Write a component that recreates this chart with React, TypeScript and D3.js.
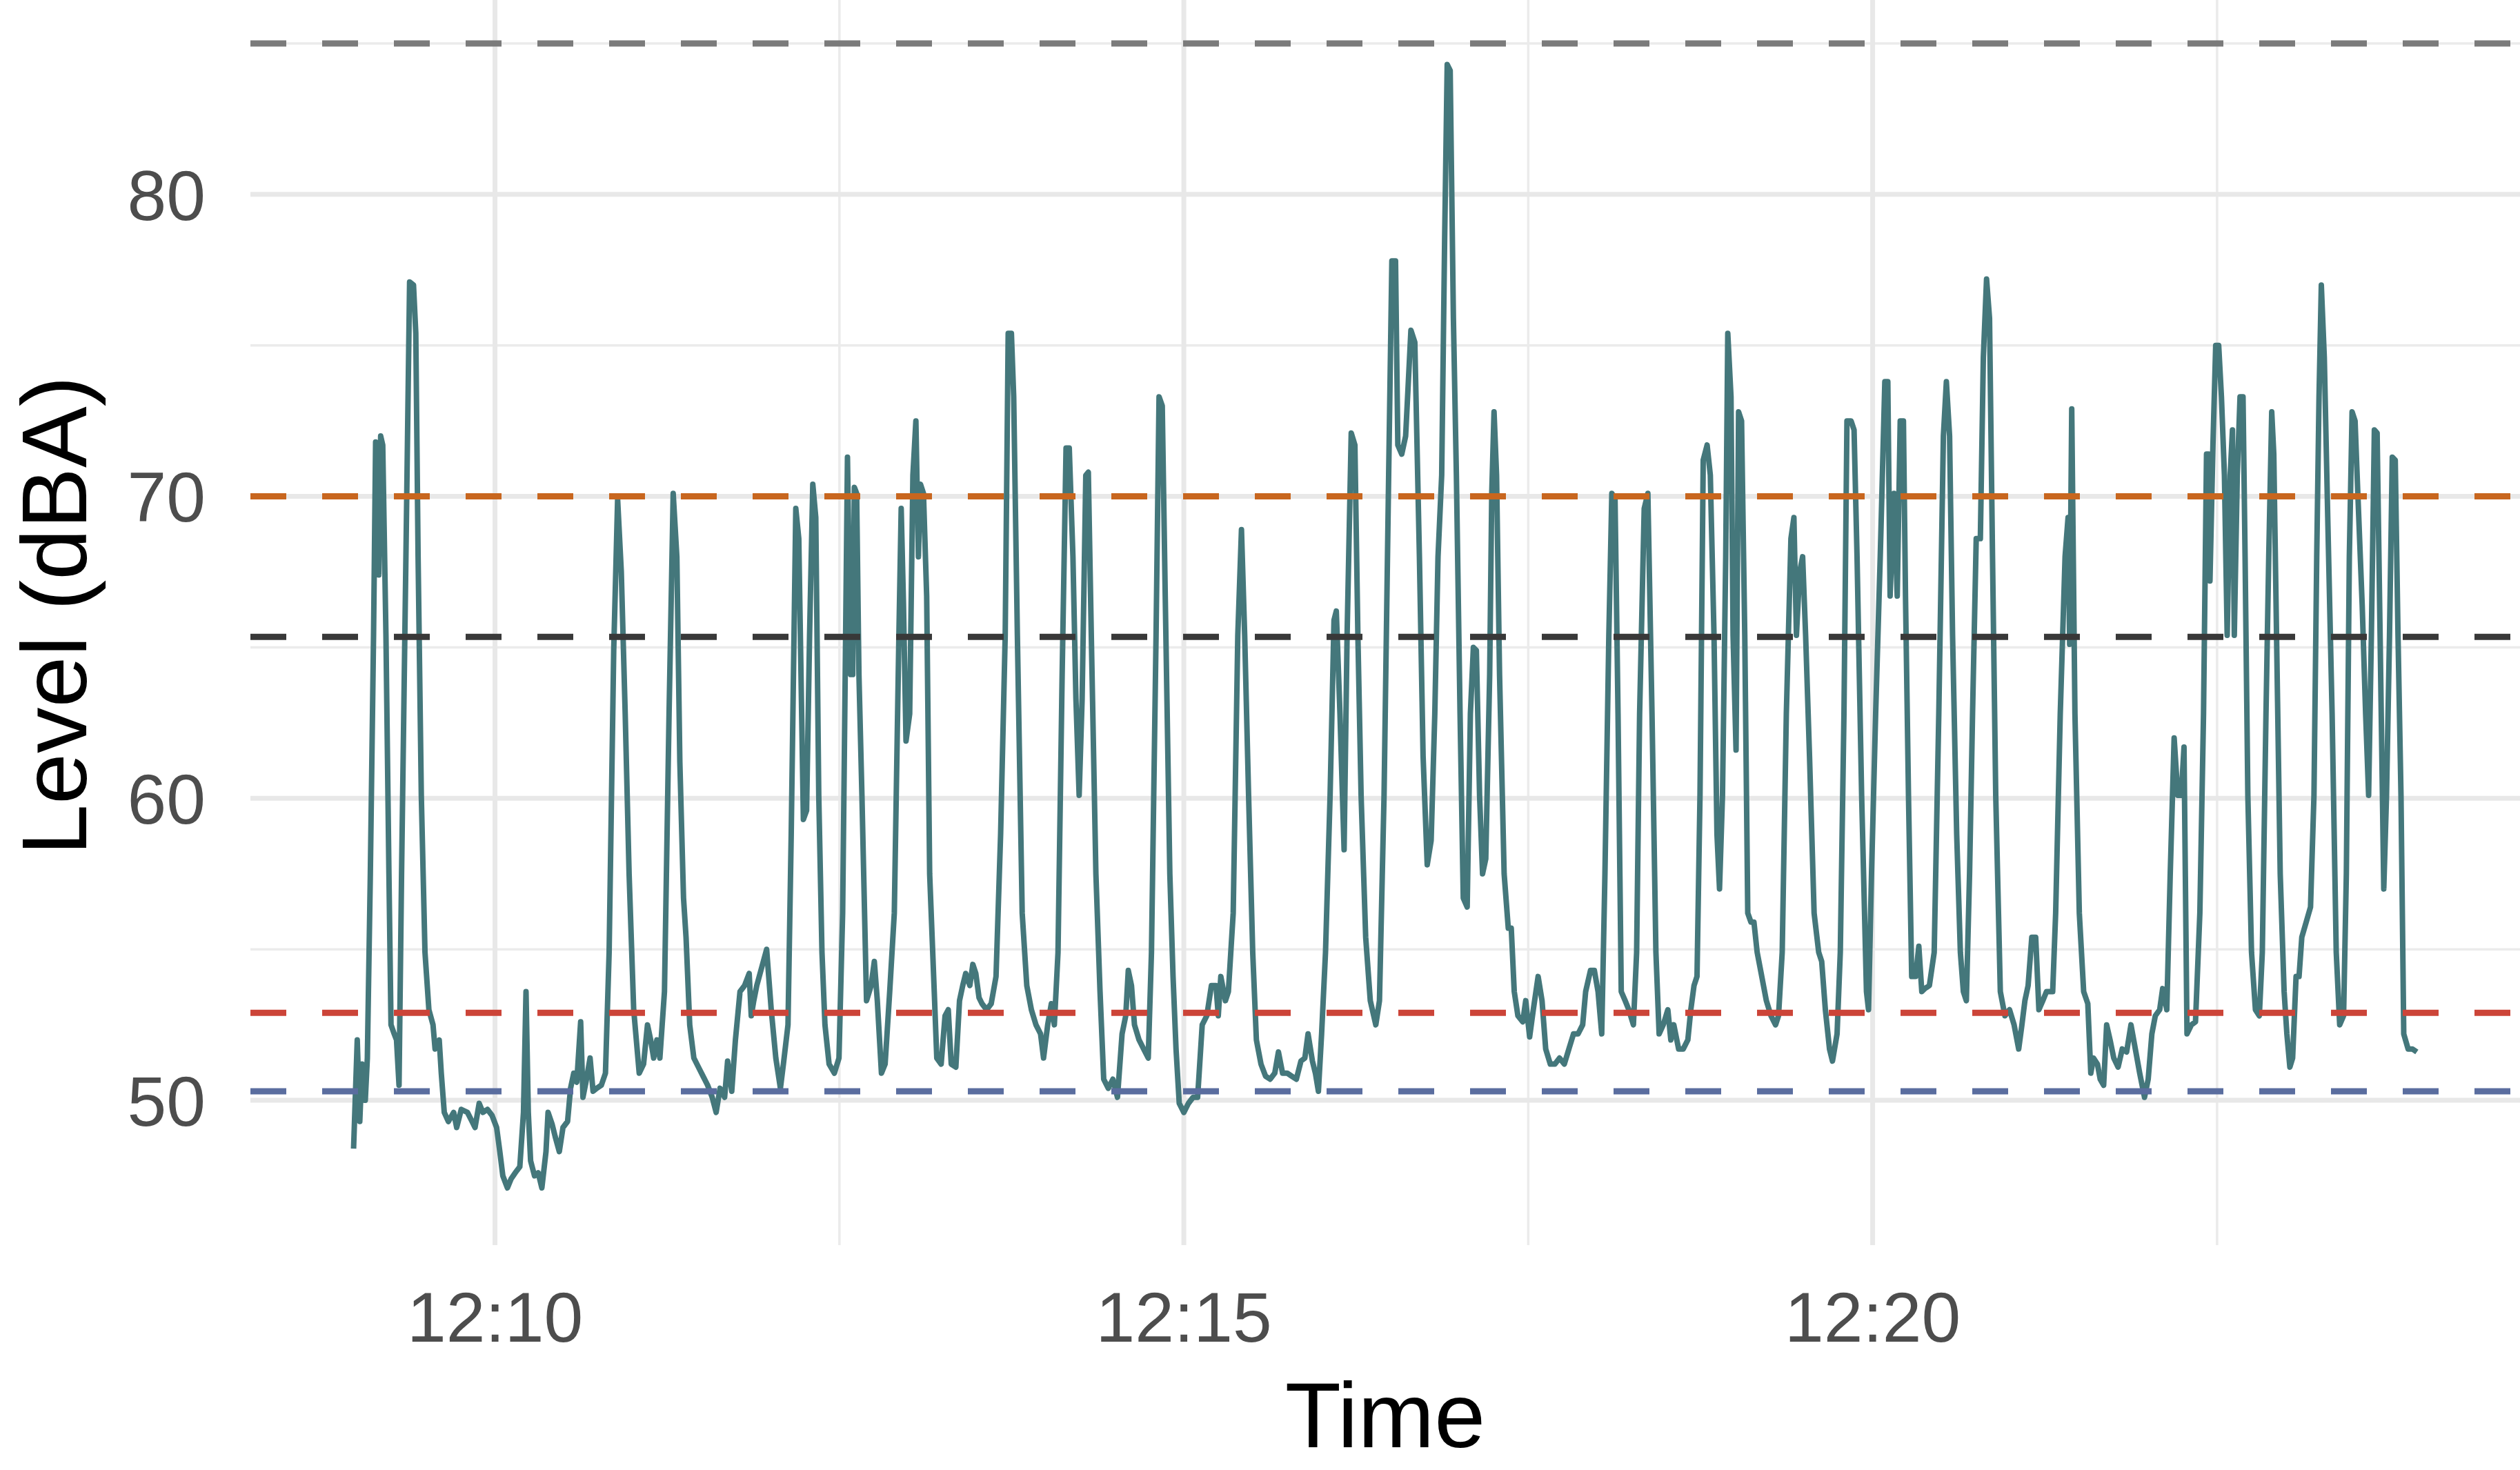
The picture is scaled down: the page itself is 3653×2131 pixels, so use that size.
import React from 'react';
import * as d3 from 'd3';

// seconds after 12:00:00
const seconds = [
  538.4, 540.0, 541.1, 542.1, 543.5, 544.4, 545.7, 547.1, 548.0, 549.4, 550.2, 551.1, 552.5, 553.8, 554.7, 556.1, 557.1, 558.2, 559.3, 561.2,
  562.8, 564.5, 565.5, 566.5, 567.9, 569.5, 571.2, 573.0, 573.9, 575.7, 576.6, 577.9, 579.7, 582.0, 583.3, 585.3, 588.0, 590.0, 591.3, 593.1,
  594.7, 596.7, 598.7, 600.7, 602.1, 603.4, 605.4, 607.0, 608.8, 610.8, 612.4, 613.5, 614.5, 615.5, 617.2, 618.8, 620.4, 622.2, 623.1, 624.9,
  626.2, 628.0, 629.6, 631.6, 632.9, 634.3, 635.6, 637.3, 638.3, 639.6, 641.4, 642.7, 644.3, 646.3, 648.1, 649.7, 651.7, 653.4, 655.0, 656.7,
  658.4, 660.4, 662.8, 664.7, 666.4, 667.8, 669.1, 670.5, 671.8, 673.8, 675.8, 677.6, 679.2, 680.5, 682.1, 683.2, 684.8, 686.6, 688.6, 690.6,
  692.6, 694.6, 696.3, 698.0, 700.0, 701.3, 703.1, 704.7, 706.7, 708.7, 710.7, 711.6, 712.7, 714.0, 718.3, 720.3, 722.3, 724.3, 725.6, 727.6,
  729.0, 731.0, 732.3, 734.3, 735.7, 737.0, 738.4, 739.7, 741.0, 742.4, 743.7, 745.5, 747.8, 749.8, 751.4, 752.7, 753.5, 754.9, 755.8, 756.5,
  757.5, 758.5, 759.8, 761.8, 763.8, 765.2, 766.5, 768.3, 769.9, 771.9, 773.9, 775.9, 776.9, 777.9, 779.0, 780.6, 782.0, 783.3, 784.4, 785.3,
  786.6, 788.0, 789.3, 791.3, 792.4, 794.3, 796.0, 797.4, 798.7, 800.7, 802.3, 803.7, 805.0, 806.8, 808.1, 809.4, 810.8, 812.1, 814.1, 816.1,
  818.2, 820.2, 822.2, 823.5, 824.9, 825.9, 827.5, 829.6, 831.6, 833.6, 835.6, 837.6, 838.9, 840.7, 842.3, 843.6, 845.2, 847.0, 848.7, 850.1,
  851.7, 853.0, 854.4, 855.7, 857.3, 858.4, 859.7, 861.7, 863.5, 865.1, 867.1, 869.1, 871.1, 873.1, 874.7, 875.8, 877.2, 878.5, 880.5, 882.5,
  884.5, 885.9, 887.9, 889.2, 890.6, 891.9, 893.9, 895.3, 896.6, 898.0, 900.0, 902.0, 904.0, 906.0, 908.0, 910.0, 912.0, 914.0, 915.0, 916.1,
  918.1, 919.4, 921.5, 923.5, 925.1, 926.5, 928.2, 930.0, 931.6, 933.6, 935.6, 937.6, 939.6, 941.2, 943.0, 945.0, 947.0, 949.0, 951.0, 952.7,
  954.1, 956.0, 957.3, 958.6, 960.0, 961.7, 963.7, 965.4, 966.4, 968.0, 969.8, 971.1, 972.9, 974.5, 975.8, 977.2, 979.2, 981.2, 983.6, 985.2,
  987.2, 989.2, 990.6, 992.2, 993.2, 994.9, 996.6, 998.9, 1000.6, 1002.6, 1004.2, 1006.0, 1007.7, 1009.3, 1010.7, 1012.3, 1013.6, 1014.7, 1016.0, 1017.4,
  1018.7, 1020.3, 1021.7, 1023.4, 1024.8, 1026.1, 1027.4, 1028.8, 1030.1, 1031.5, 1033.2, 1034.1, 1035.1, 1036.2, 1037.5, 1039.5, 1041.3, 1042.6, 1043.9, 1045.5,
  1047.6, 1048.9, 1050.6, 1052.2, 1054.3, 1056.0, 1057.6, 1059.6, 1061.6, 1063.6, 1065.7, 1067.7, 1069.7, 1071.7, 1073.7, 1075.0, 1077.1, 1078.8, 1080.4, 1082.0,
  1083.4, 1085.1, 1086.4, 1087.8, 1089.1, 1090.5, 1092.2, 1093.8, 1095.8, 1097.2, 1098.5, 1100.5, 1102.1, 1103.9, 1105.6, 1107.0, 1108.8, 1110.8, 1112.1, 1113.4,
  1115.5, 1117.5, 1119.5, 1120.8, 1122.2, 1123.5, 1124.8, 1126.2, 1127.9, 1129.3, 1130.9, 1132.2, 1133.3, 1134.6, 1136.0, 1136.9, 1138.3, 1139.2, 1140.5, 1141.6,
  1142.9, 1144.3, 1145.6, 1147.0, 1148.3, 1149.7, 1151.7, 1153.7, 1155.7, 1157.7, 1159.0, 1160.6, 1162.4, 1164.4, 1165.7, 1166.8, 1168.2, 1169.5, 1170.8, 1172.5,
  1174.5, 1176.5, 1177.8, 1179.4, 1181.2, 1182.5, 1184.5, 1185.9, 1187.5, 1188.8, 1190.6, 1191.9, 1193.2, 1195.2, 1197.3, 1198.2, 1199.5, 1201.3, 1203.3, 1205.3,
  1206.6, 1207.6, 1209.3, 1210.7, 1212.0, 1213.4, 1214.3, 1215.6, 1217.0, 1218.7, 1220.1, 1221.4, 1222.7, 1224.7, 1226.8, 1228.8, 1230.8, 1232.1, 1233.5, 1234.8,
  1236.6, 1238.2, 1239.5, 1240.8, 1242.2, 1243.5, 1245.1, 1246.9, 1248.2, 1249.6, 1250.9, 1252.2, 1253.6, 1255.6, 1257.6, 1259.6, 1261.6, 1263.6, 1265.0, 1266.3,
  1267.7, 1269.3, 1271.0, 1272.4, 1274.1, 1275.7, 1278.4, 1279.7, 1281.7, 1283.8, 1285.1, 1285.8, 1286.7, 1288.1, 1290.0, 1291.9, 1293.7, 1295.0, 1296.2, 1297.9,
  1299.1, 1300.6, 1301.9, 1303.4, 1305.0, 1306.9, 1308.7, 1310.6, 1312.5, 1314.4, 1316.3, 1318.4, 1320.0, 1321.6, 1323.1, 1325.0, 1326.3, 1328.1, 1329.6, 1331.3,
  1332.9, 1334.4, 1335.6, 1336.9, 1338.8, 1340.6, 1342.5, 1344.1, 1345.4, 1346.3, 1346.9, 1348.2, 1349.4, 1350.7, 1351.9, 1353.2, 1354.4, 1355.7, 1356.7, 1357.5,
  1358.8, 1360.0, 1361.3, 1362.2, 1363.4, 1365.0, 1366.7, 1368.4, 1369.7, 1371.3, 1372.5, 1373.8, 1374.7, 1375.9, 1377.5, 1379.2, 1380.4, 1381.7, 1382.9, 1384.4,
  1385.7, 1386.9, 1388.8, 1390.7, 1392.2, 1393.4, 1394.4, 1395.4, 1396.7, 1398.2, 1400.1, 1401.9, 1403.4, 1405.1, 1406.3, 1407.6, 1408.8, 1410.1, 1411.3, 1413.2,
  1414.7, 1416.0, 1417.2, 1418.5, 1419.7, 1421.0, 1422.6, 1423.8, 1425.1, 1426.3, 1427.6, 1428.8, 1430.1, 1431.3, 1433.2, 1435.1, 1437.0,
];

// sound level, dBA
const levels = [
  48.4, 52.0, 49.3, 51.2, 50.0, 51.4, 57.5, 65.4, 71.8, 67.4, 72.0, 71.7, 65.4, 57.5, 52.5, 52.2, 52.0, 50.5, 57.5, 68.0,
  77.1, 77.0, 75.4, 68.0, 60.1, 54.9, 53.0, 52.5, 51.7, 52.0, 50.9, 49.6, 49.3, 49.6, 49.1, 49.7, 49.6, 49.3, 49.1, 49.9,
  49.6, 49.7, 49.5, 49.1, 48.3, 47.5, 47.1, 47.4, 47.6, 47.8, 49.6, 53.6, 49.6, 48.0, 47.5, 47.6, 47.1, 48.3, 49.6, 49.2,
  48.8, 48.3, 49.1, 49.3, 50.4, 50.9, 50.6, 52.6, 50.1, 50.6, 51.4, 50.3, 50.4, 50.5, 50.9, 54.9, 64.9, 69.9, 67.5, 62.8,
  57.5, 53.0, 50.9, 51.2, 52.5, 52.0, 51.4, 52.0, 51.4, 53.6, 62.8, 70.1, 68.0, 61.2, 56.7, 55.4, 52.5, 51.4, 51.1, 50.8,
  50.5, 50.1, 49.6, 50.4, 50.1, 51.3, 50.3, 52.0, 53.6, 53.8, 54.2, 52.8, 53.3, 53.8, 55.0, 53.0, 51.4, 50.4, 51.2, 52.5,
  58.8, 69.6, 68.6, 59.3, 59.6, 65.4, 70.4, 69.3, 60.1, 54.9, 52.5, 51.2, 50.9, 51.4, 56.2, 65.4, 71.3, 64.1, 64.1, 70.3,
  70.1, 64.1, 60.1, 53.3, 53.8, 54.6, 53.3, 50.9, 51.2, 53.6, 56.2, 65.4, 69.6, 66.4, 61.9, 62.8, 70.7, 72.5, 68.0, 70.4,
  70.1, 66.7, 57.5, 53.6, 51.4, 51.2, 52.8, 53.0, 51.2, 51.1, 53.3, 53.8, 54.2, 53.8, 54.5, 54.2, 53.4, 53.2, 53.0, 53.2,
  54.1, 58.8, 65.4, 75.4, 75.4, 73.3, 65.4, 56.2, 53.8, 53.0, 52.5, 52.2, 51.4, 52.5, 53.2, 52.5, 54.9, 64.1, 71.6, 71.6,
  68.0, 63.3, 60.1, 63.3, 70.7, 70.8, 65.4, 57.5, 53.6, 50.7, 50.4, 50.7, 50.1, 52.2, 52.8, 54.3, 53.8, 52.5, 52.0, 51.7,
  51.4, 54.9, 65.4, 73.3, 73.0, 66.7, 57.5, 54.1, 51.7, 49.9, 49.6, 49.9, 50.1, 50.1, 52.5, 52.8, 53.8, 53.8, 52.8, 54.1,
  53.3, 53.6, 56.2, 65.4, 68.9, 65.4, 60.1, 54.9, 52.0, 51.2, 50.8, 50.7, 50.9, 51.6, 50.9, 50.9, 50.8, 50.7, 51.3, 51.4,
  52.2, 51.3, 50.9, 50.3, 52.2, 54.9, 60.1, 65.9, 66.2, 62.8, 58.3, 65.4, 72.1, 71.7, 65.4, 60.1, 55.4, 53.3, 52.5, 53.3,
  60.1, 70.7, 77.8, 77.8, 71.7, 71.4, 72.0, 75.5, 75.1, 68.0, 61.4, 57.8, 58.6, 62.8, 68.0, 70.7, 78.6, 84.3, 84.1, 75.9,
  70.7, 62.8, 56.7, 56.4, 62.8, 65.0, 64.9, 60.1, 57.5, 58.0, 64.1, 70.1, 72.8, 70.7, 64.1, 57.5, 55.7, 55.7, 53.6, 52.8,
  52.6, 53.3, 52.1, 53.0, 54.1, 53.3, 51.7, 51.2, 51.2, 51.4, 51.2, 51.7, 52.2, 52.2, 52.5, 53.6, 54.3, 54.3, 53.6, 52.2,
  57.5, 65.4, 70.1, 69.9, 62.8, 53.6, 53.3, 53.0, 52.5, 54.9, 62.8, 69.6, 70.1, 62.8, 54.9, 52.2, 52.5, 53.0, 52.0, 52.5,
  51.7, 51.7, 52.0, 53.0, 53.8, 54.1, 60.1, 71.2, 71.7, 70.7, 65.4, 58.8, 57.0, 60.1, 68.0, 75.4, 73.3, 65.4, 61.6, 72.8,
  72.5, 65.4, 56.2, 55.9, 55.9, 54.9, 54.1, 53.3, 52.8, 52.5, 52.8, 54.9, 62.8, 68.6, 69.3, 65.4, 67.5, 68.0, 65.4, 61.4,
  56.2, 54.9, 54.6, 53.0, 51.7, 51.3, 52.2, 54.9, 62.8, 72.5, 72.5, 72.2, 68.0, 60.1, 53.6, 53.0, 57.5, 62.8, 68.0, 73.8,
  73.8, 66.7, 70.1, 66.7, 72.5, 72.5, 66.7, 60.1, 54.1, 54.1, 55.1, 53.6, 53.7, 53.8, 54.9, 62.8, 72.0, 73.8, 72.0, 65.4,
  58.8, 54.9, 53.6, 53.3, 57.5, 62.8, 68.6, 68.6, 74.6, 77.2, 75.9, 68.0, 60.1, 53.6, 52.8, 53.0, 52.5, 51.7, 52.5, 53.3,
  53.8, 55.4, 55.4, 53.0, 53.3, 53.6, 53.6, 56.2, 62.8, 68.0, 69.3, 65.1, 72.9, 62.8, 56.2, 53.6, 53.2, 50.9, 51.4, 51.2,
  50.7, 50.5, 52.5, 52.0, 51.4, 51.1, 51.7, 51.6, 52.5, 51.7, 50.9, 50.1, 50.7, 52.2, 52.8, 53.0, 53.7, 53.0, 57.5, 62.0,
  60.1, 60.1, 61.7, 52.2, 52.5, 52.6, 56.2, 62.8, 71.4, 71.4, 67.2, 71.7, 75.0, 75.0, 73.3, 70.7, 65.4, 70.7, 72.2, 65.4,
  70.7, 73.3, 73.3, 68.0, 60.1, 54.9, 53.0, 52.8, 54.9, 62.8, 68.0, 72.8, 71.4, 65.4, 57.5, 53.6, 52.2, 51.1, 51.4, 54.1,
  54.1, 55.4, 55.9, 56.4, 60.1, 68.0, 73.3, 77.0, 74.6, 69.3, 62.8, 54.9, 52.5, 52.8, 57.5, 68.0, 72.8, 72.5, 70.1, 66.4,
  62.8, 60.1, 65.4, 72.2, 72.1, 65.4, 57.0, 60.1, 65.4, 71.3, 71.2, 65.4, 60.1, 52.2, 51.7, 51.7, 51.6,
];

// dashed reference levels
const refLevels = [85, 70, 65.35, 52.9, 50.3];
const refColors = ['#7b7b7b', '#c8661e', '#383838', '#cc4438', '#5a6d9f'];

const W = 3653;
const H = 2131;
const panel = { left: 363, right: 3653, top: -20, bottom: 1805 };
const font = '"Liberation Sans", Arial, Helvetica, sans-serif';

const toDate = (s: number) => new Date(2024, 0, 1, 12, 0, 0, Math.round(s * 1000));

export default function App() {
  const pts = seconds.map((s, i) => ({ t: toDate(s), v: levels[i] }));

  // ggplot-style 5% expansion
  const [t0, t1] = d3.extent(seconds) as [number, number];
  const tPad = (t1 - t0) * 0.05;
  const x = d3.scaleTime()
    .domain([toDate(t0 - tPad), toDate(t1 + tPad)])
    .range([panel.left, panel.right]);

  const allY = levels.concat(refLevels);
  const [v0, v1] = d3.extent(allY) as [number, number];
  const vPad = (v1 - v0) * 0.05;
  const y = d3.scaleLinear()
    .domain([v0 - vPad, v1 + vPad])
    .range([panel.bottom, panel.top]);

  const xMajor = x.ticks(d3.timeMinute.every(5)!);
  const xMinor: Date[] = [];
  const step = 5 * 60 * 1000;
  const firstMinor = xMajor[0].getTime() - step / 2;
  for (let m = firstMinor; m <= x.domain()[1].getTime(); m += step) {
    if (m >= x.domain()[0].getTime()) xMinor.push(new Date(m));
  }
  const yMajor = y.ticks(4);
  const yMinor: number[] = [];
  for (let v = yMajor[0] - 5; v <= y.domain()[1]; v += 10) {
    if (v >= y.domain()[0]) yMinor.push(v);
  }
  const fmt = d3.timeFormat('%H:%M');

  const line = d3.line<{ t: Date; v: number }>()
    .x(d => x(d.t))
    .y(d => y(d.v));

  return (
    <svg width={W} height={H} style={{ position: 'absolute', left: 0, top: 0, background: '#fff' }}
      fontFamily={font}>
      <rect width={W} height={H} fill="#fff" />
      {/* grid */}
      {yMinor.map(v => (
        <line key={'ym' + v} x1={panel.left} x2={panel.right} y1={y(v)} y2={y(v)} stroke="#ebebeb" strokeWidth={3.5} />
      ))}
      {xMinor.map(d => (
        <line key={'xm' + d.getTime()} x1={x(d)} x2={x(d)} y1={panel.top} y2={panel.bottom} stroke="#ebebeb" strokeWidth={3.5} />
      ))}
      {yMajor.map(v => (
        <line key={'yM' + v} x1={panel.left} x2={panel.right} y1={y(v)} y2={y(v)} stroke="#e8e8e8" strokeWidth={7} />
      ))}
      {xMajor.map(d => (
        <line key={'xM' + d.getTime()} x1={x(d)} x2={x(d)} y1={panel.top} y2={panel.bottom} stroke="#e8e8e8" strokeWidth={7} />
      ))}

      {/* series */}
      <path d={line(pts) ?? ''} fill="none" stroke="#44777b" strokeWidth={8} strokeLinejoin="round" />

      {/* reference lines */}
      {refLevels.map((v, i) => (
        <line key={'ref' + i} x1={panel.left} x2={panel.right} y1={y(v)} y2={y(v)}
          stroke={refColors[i]} strokeWidth={9} strokeDasharray="52,52" />
      ))}

      {/* axes text */}
      {yMajor.map(v => (
        <text key={'yl' + v} x={298} y={y(v)} dy="0.36em" textAnchor="end" fontSize={102} fill="#4d4d4d">{v}</text>
      ))}
      {xMajor.map(d => (
        <text key={'xl' + d.getTime()} x={x(d)} y={1945} textAnchor="middle" fontSize={102} fill="#4d4d4d">{fmt(d)}</text>
      ))}
      <text x={(panel.left + panel.right) / 2} y={2098} textAnchor="middle" fontSize={133} fill="#000">Time</text>
      <text transform={`translate(125, ${(panel.top + panel.bottom) / 2}) rotate(-90)`} textAnchor="middle" fontSize={133} fill="#000">Level (dBA)</text>
    </svg>
  );
}
